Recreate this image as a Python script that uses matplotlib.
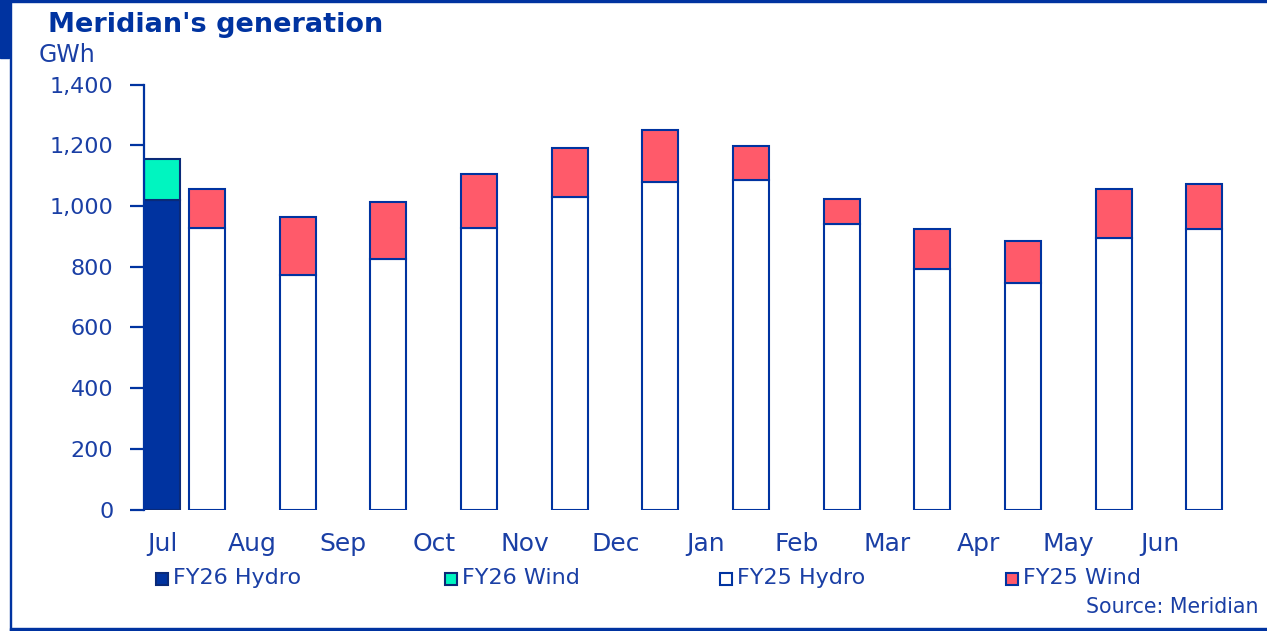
import numpy as np
import matplotlib
matplotlib.use('Agg')
import matplotlib.pyplot as plt
from matplotlib.patches import Rectangle

months = ['Jul', 'Aug', 'Sep', 'Oct', 'Nov', 'Dec', 'Jan', 'Feb', 'Mar', 'Apr', 'May', 'Jun']
fy26_hydro = [1020]
fy26_wind = [135]
fy25_hydro = [926, 772, 825, 928, 1030, 1079, 1085, 940, 791, 745, 895, 925]
fy25_wind = [129, 192, 187, 177, 162, 172, 112, 84, 134, 139, 161, 147]
yticks = [0, 200, 400, 600, 800, 1000, 1200, 1400]

blue = '#0033a0'
navy = '#0a2a78'
mint = '#00f5c0'
pink = '#ff5a6a'
txt = '#1a3fa5'

plt.rcParams['font.family'] = ['DejaVu Sans']

W, H = 1267, 631
fig = plt.figure(figsize=(W / 100, H / 100), dpi=100)
ax = fig.add_axes([144 / W, 1 - 509.5 / H, (1232 - 144) / W, 425 / H])

x = np.arange(len(months))
w = 0.397
off = 0.496
x26 = x[:len(fy26_hydro)]
ax.bar(x26, fy26_hydro, w, color=blue, edgecolor=navy, linewidth=1.5, label='FY26 Hydro')
ax.bar(x26, fy26_wind, w, bottom=fy26_hydro, color=mint, edgecolor=navy, linewidth=1.5, label='FY26 Wind')
ax.bar(x + off, fy25_hydro, w, color='white', edgecolor=blue, linewidth=1.5, label='FY25 Hydro')
ax.bar(x + off, fy25_wind, w, bottom=fy25_hydro, color=pink, edgecolor=blue, linewidth=1.5, label='FY25 Wind')

ax.set_xlim(-0.199, 11.801)
ax.set_ylim(0, 1400)
ax.set_yticks(yticks)
ax.set_yticklabels([f'{v:,}' for v in yticks])
ax.set_xticks(x)
ax.set_xticklabels(months)
for s in ['top', 'right', 'bottom']:
    ax.spines[s].set_visible(False)
ax.spines['left'].set_color(blue)
ax.spines['left'].set_linewidth(1.6)
ax.tick_params(axis='y', direction='out', length=10, width=1.6, color=blue,
               labelsize=16, labelcolor=txt, pad=12)
ax.tick_params(axis='x', length=0, labelsize=18, labelcolor=txt, pad=16)

# legend, drawn by hand to keep the uneven spacing
leg_items = [('FY26 Hydro', blue, navy, 156), ('FY26 Wind', mint, navy, 445),
             ('FY25 Hydro', 'white', blue, 720), ('FY25 Wind', pink, blue, 1006)]
for lab, fc, ec, px in leg_items:
    fig.patches.append(Rectangle((px / W, 1 - 585 / H), 12 / W, 12 / H, facecolor=fc,
                                 edgecolor=ec, linewidth=1.5, transform=fig.transFigure))
    fig.text((px + 17) / W, 1 - 578 / H, lab, fontsize=16, color=txt, va='center')

fig.text(1259 / W, 1 - 607 / H, 'Source: Meridian', fontsize=14.8, color=txt, ha='right', va='center')
fig.text(48 / W, 1 - 25 / H, "Meridian's generation", fontsize=19.5, fontweight='bold',
         color=blue, va='center')
fig.text(39 / W, 1 - 55 / H, 'GWh', fontsize=17, color=txt, va='center')

# frame
fig.patches.append(Rectangle((0, 1 - 2 / H), 1, 2 / H, color=blue, transform=fig.transFigure))
fig.patches.append(Rectangle((0, 1 - 58 / H), 9 / W, 58 / H, color=blue, transform=fig.transFigure))
fig.patches.append(Rectangle((9.5 / W, 0), 1.5 / W, 1, color=blue, transform=fig.transFigure))
fig.patches.append(Rectangle((9.5 / W, 0), 1, 3 / H, color=blue, transform=fig.transFigure))

fig.savefig('out.png', dpi=100)
